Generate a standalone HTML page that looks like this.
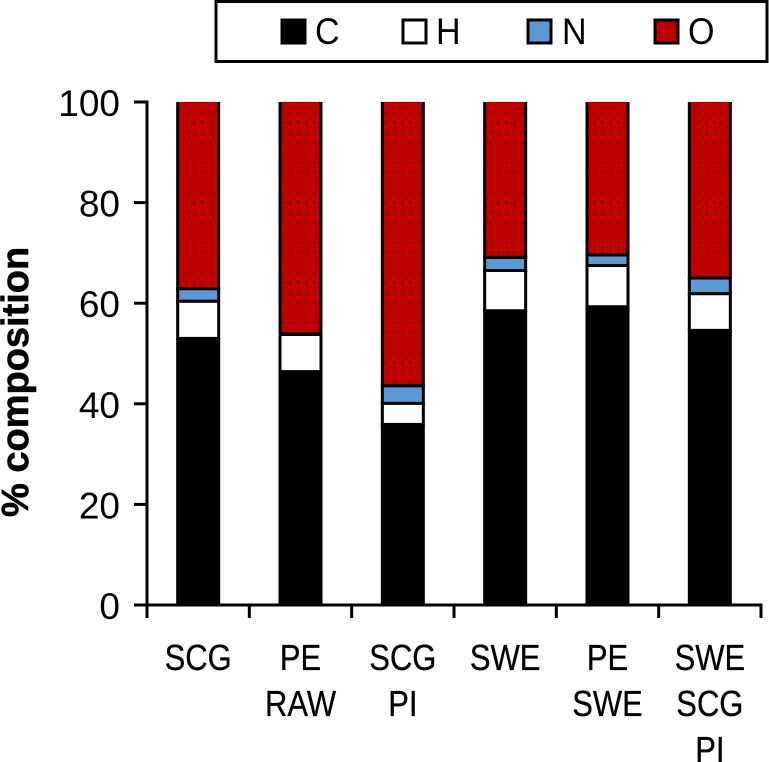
<!DOCTYPE html>
<html><head><meta charset="utf-8"><title>Composition chart</title>
<style>html,body{margin:0;padding:0;background:#fff}svg{display:block}text{font-family:"Liberation Sans",sans-serif;fill:#000}</style>
</head><body>
<svg id="chart" width="769" height="762" viewBox="0 0 769 762" xmlns="http://www.w3.org/2000/svg">
<defs>
<pattern id="dots" width="8" height="10" patternUnits="userSpaceOnUse">
<rect width="8" height="10" fill="#c00000"/><rect x="2" y="2" width="1" height="1" fill="#500"/><rect x="6" y="7" width="1" height="1" fill="#500"/>
</pattern>
</defs>
<rect x="216" y="1.5" width="551" height="60" fill="#fff" stroke="#000" stroke-width="3"/>
<g><rect x="282" y="20" width="23" height="23" fill="#000" stroke="#000" stroke-width="3"/><text transform="translate(315,44) scale(.92,1)" font-size="37">C</text></g>
<g><rect x="403" y="20" width="23" height="23" fill="#fff" stroke="#000" stroke-width="3"/><text transform="translate(436,44) scale(.92,1)" font-size="37">H</text></g>
<g><rect x="528" y="20" width="23" height="23" fill="#5b9bd5" stroke="#000" stroke-width="3"/><text transform="translate(562,44) scale(.92,1)" font-size="37">N</text></g>
<g><rect x="655" y="20" width="23" height="23" fill="url(#dots)" stroke="#000" stroke-width="3"/><text transform="translate(688,44) scale(.92,1)" font-size="37">O</text></g>
<text transform="translate(28,517) rotate(-90)" font-size="38" font-weight="bold" stroke="#000" stroke-width=".6">% composition</text>
</svg>
<script>
const categories = [["SCG"],["PE","RAW"],["SCG","PI"],["SWE"],["PE","SWE"],["SWE","SCG","PI"]];
const seriesC = [53.0,46.4,35.9,58.5,59.3,54.6];
const seriesH = [7.4,7.4,4.2,8.0,8.2,7.3];
const seriesN = [2.5,0.1,3.5,2.6,2.1,3.1];
const seriesO = [37.1,46.1,56.4,30.9,30.4,35.0];
const yTicks = [0,20,40,60,80,100];

const NS = "http://www.w3.org/2000/svg";
const svg = document.getElementById("chart");
const plotLeft = 147, plotRight = 761, plotBottom = 605, plotTop = 102;
const y = v => plotBottom - (v / 100) * (plotBottom - plotTop);
const bandW = (plotRight - plotLeft) / categories.length;
const x = i => plotLeft + bandW * i;
function mk(tag, attrs) {
  const e = document.createElementNS(NS, tag);
  for (const k in attrs) e.setAttribute(k, attrs[k]);
  svg.appendChild(e);
  return e;
}
const seriesList = [
  {key:"c", vals:seriesC, fill:"#000"},
  {key:"h", vals:seriesH, fill:"#fff"},
  {key:"n", vals:seriesN, fill:"#5b9bd5"},
  {key:"o", vals:seriesO, fill:"url(#dots)"}
];
categories.forEach((cat, i) => {
  let base = 0;
  const bw = 41, bx = x(i) + (bandW - bw) / 2;
  seriesList.forEach(s => {
    const v = s.vals[i];
    const h = y(base) - y(base + v);
    const r = mk("rect", {x:bx, y:y(base + v), width:bw, height:h, fill:s.fill, stroke:"#000", "stroke-width":3});
    if (s.key === "o") r.setAttribute("stroke-dasharray", `0 ${bw} ${2 * h + bw} 0`);
    
    
    base += v;
  });
  cat.forEach((line, j) => {
    const t = mk("text", {transform:`translate(${x(i) + bandW / 2},${670 + j * 46}) scale(.86,1)`, "text-anchor":"middle", "font-size":36, stroke:"#000", "stroke-width":0.3});
    t.textContent = line;
    
    
  });
  const tk = mk("line", {x1:x(i + 1), x2:x(i + 1), y1:plotBottom, y2:618, stroke:"#000", "stroke-width":3});
  
  
});
yTicks.forEach(v => {
  const tk = mk("line", {x1:134, x2:plotLeft, y1:y(v), y2:y(v), stroke:"#000", "stroke-width":3});
  
  
  const t = mk("text", {transform:`translate(120,${y(v) + 14})`, "text-anchor":"end", "font-size":37});
  t.textContent = v;
  
  
});
const ya = mk("line", {x1:plotLeft, x2:plotLeft, y1:plotTop - 1.5, y2:618, stroke:"#000", "stroke-width":3});


const xa = mk("line", {x1:134, x2:plotRight + 1.5, y1:plotBottom, y2:plotBottom, stroke:"#000", "stroke-width":3});


</script>
</body></html>
